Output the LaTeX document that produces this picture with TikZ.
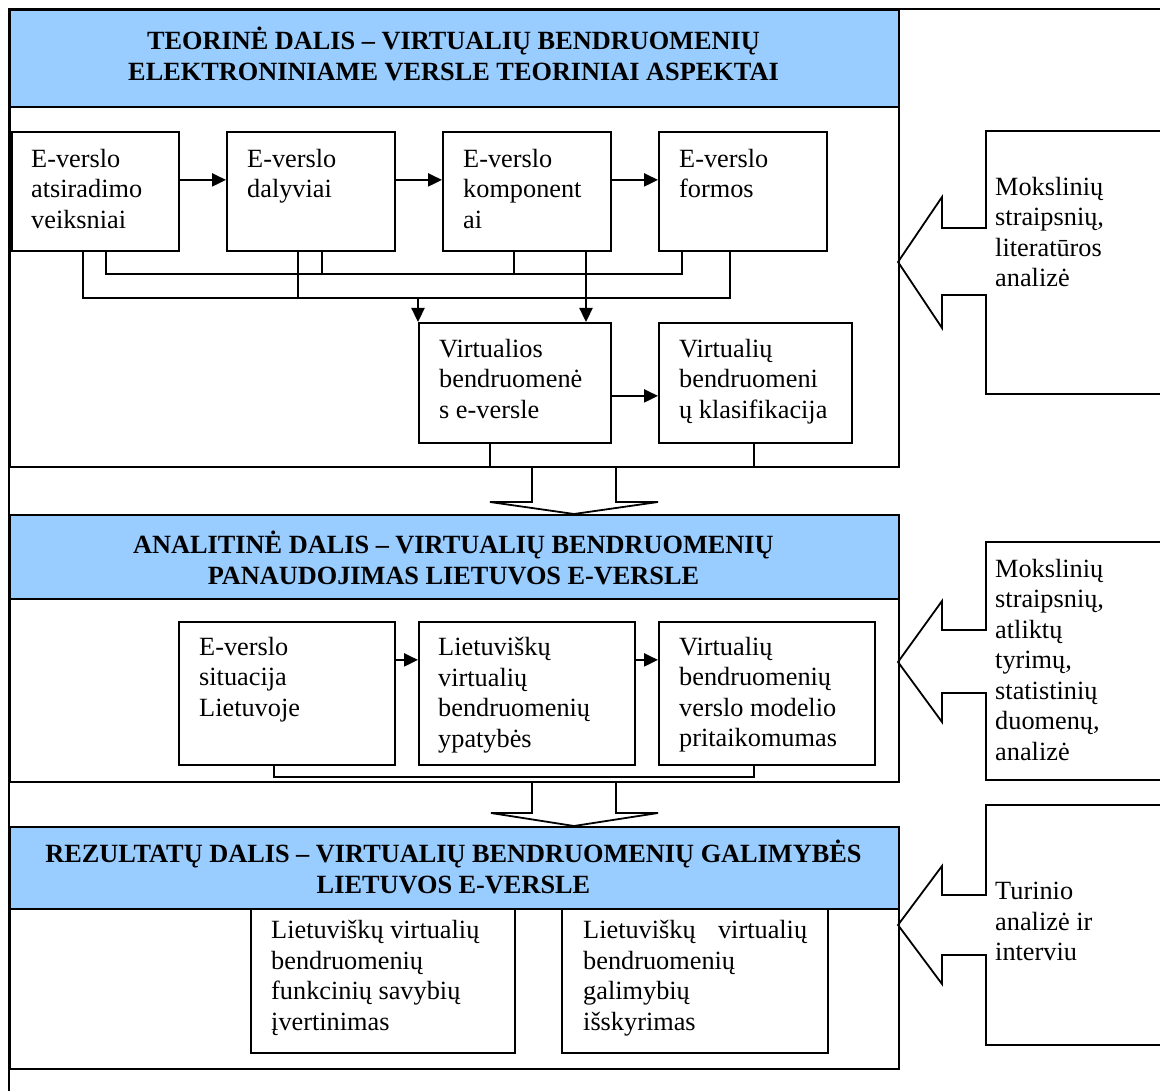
\documentclass[tikz,border=0pt]{standalone}
\usepackage{fontspec}
\setmainfont{Liberation Serif}
\usetikzlibrary{arrows.meta}
\definecolor{headblue}{RGB}{153,204,255}

\begin{document}
\begin{tikzpicture}[x=1pt,y=-1pt,
  link/.style={draw=black, line width=1.8pt},
  stepbox/.style={draw=black, line width=1.8pt, anchor=north west, inner sep=0pt},
  headbox/.style={stepbox, fill=headblue},
  boxtext/.style={anchor=north west, align=left, inner sep=0pt,
    font=\fontsize{26.3}{30.5}\selectfont},
  headtext/.style={anchor=north, align=center, inner sep=0pt,
    font=\fontsize{26.3}{31}\selectfont\bfseries},
  flow/.style={line width=2.3pt, -{Triangle[length=14pt,width=13pt]}},
]
\useasboundingbox (0,0) rectangle (1160,1091);

% outer frame (top and left edges)
\draw[link] (1180,9) -- (9,9) -- (9,1100);

% ---- section frames and headers ----
\node[stepbox, minimum width=889, minimum height=457] (s1) at (9,9) {};
\node[headbox, minimum width=889, minimum height=97] (h1) at (9,9) {};
\node[stepbox, minimum width=889, minimum height=267] (s2) at (9,514) {};
\node[headbox, minimum width=889, minimum height=84] (h2) at (9,514) {};
\node[stepbox, minimum width=889, minimum height=242] (s3) at (9,826) {};
\node[headbox, minimum width=889, minimum height=82] (h3) at (9,826) {};

\node[headtext] (h1t) at (453.5,26.5) {TEORINĖ DALIS – VIRTUALIŲ BENDRUOMENIŲ\\ELEKTRONINIAME VERSLE TEORINIAI ASPEKTAI};
\node[headtext] (h2t) at (453.5,531) {ANALITINĖ DALIS – VIRTUALIŲ BENDRUOMENIŲ\\PANAUDOJIMAS LIETUVOS E-VERSLE};
\node[headtext] (h3t) at (453.5,840) {REZULTATŲ DALIS – VIRTUALIŲ BENDRUOMENIŲ GALIMYBĖS\\LIETUVOS E-VERSLE};

% ---- theoretical part ----
\node[stepbox, minimum width=167, minimum height=119] (b1) at (11,131) {};
\node[stepbox, minimum width=168, minimum height=119] (b2) at (226,131) {};
\node[stepbox, minimum width=168, minimum height=119] (b3) at (442,131) {};
\node[stepbox, minimum width=168, minimum height=119] (b4) at (658,131) {};
\node[stepbox, minimum width=192, minimum height=120] (v1) at (418,322) {};
\node[stepbox, minimum width=193, minimum height=120] (v2) at (658,322) {};

\node[boxtext] (b1t) at (31,149) {E-verslo\\atsiradimo\\veiksniai};
\node[boxtext] (b2t) at (247,149) {E-verslo\\dalyviai};
\node[boxtext] (b3t) at (463,149) {E-verslo\\komponent\\ai};
\node[boxtext] (b4t) at (679,149) {E-verslo\\formos};
\node[boxtext] (v1t) at (439,339) {Virtualios\\bendruomenė\\s e-versle};
\node[boxtext] (v2t) at (679,339) {Virtualių\\bendruomeni\\ų klasifikacija};

\draw[flow] ([yshift=11.5]b1.east) -- ([yshift=11.5]b2.west);
\draw[flow] ([yshift=11.5]b2.east) -- ([yshift=11.5]b3.west);
\draw[flow] ([yshift=11.5]b3.east) -- ([yshift=11.5]b4.west);
\draw[flow] ([yshift=-13]v1.east) -- ([yshift=-13]v2.west);

% upper collecting line
\coordinate (u1) at (106,274);
\coordinate (u2) at (322,274);
\coordinate (u3) at (514,274);
\coordinate (u4) at (682,274);
\draw[link] (b1.south -| u1) -- (u1) -- (u4) -- (b4.south -| u4);
\draw[link] (b2.south -| u2) -- (u2);
\draw[link] (b3.south -| u3) -- (u3);
% lower collecting line
\coordinate (l1) at (83,298);
\coordinate (l2) at (298,298);
\coordinate (l4) at (730,298);
\coordinate (la) at (418,298);
\coordinate (d3) at (586,298);
\draw[link] (b1.south -| l1) -- (l1) -- (l4) -- (b4.south -| l4);
\draw[link] (b2.south -| l2) -- (l2);
\draw[flow] (la) -- (v1.north -| la);
\draw[flow] (b3.south -| d3) -- (v1.north -| d3);

% links down to the section edge
\coordinate (e1) at (490,466);
\coordinate (e2) at (754,466);
\draw[link] (v1.south -| e1) -- (e1);
\draw[link] (v2.south -| e2) -- (e2);

% block arrow into the analytical part
\draw[link, line join=miter] (532,466) -- (532,502) -- (490,502) -- (574,514)
  -- (658,502) -- (616,502) -- (616,466);

% ---- analytical part ----
\node[stepbox, minimum width=216, minimum height=143] (a1) at (178,621) {};
\node[stepbox, minimum width=216, minimum height=143] (a2) at (418,621) {};
\node[stepbox, minimum width=216, minimum height=143] (a3) at (658,621) {};

\node[boxtext] (a1t) at (199,637) {E-verslo\\situacija\\Lietuvoje};
\node[boxtext] (a2t) at (438,637) {Lietuviškų\\virtualių\\bendruomenių\\ypatybės};
\node[boxtext] (a3t) at (679,637) {Virtualių\\bendruomenių\\verslo modelio\\pritaikomumas};

\draw[flow] ([yshift=33.5]a1.east) -- ([yshift=33.5]a2.west);
\draw[flow] ([yshift=33.5]a2.east) -- ([yshift=33.5]a3.west);

\coordinate (f1) at (274,777);
\coordinate (f2) at (754,777);
\draw[link] (a1.south -| f1) -- (f1) -- (f2) -- (a3.south -| f2);

% block arrow into the results part
\draw[link, line join=miter] (532,781) -- (532,813) -- (491,813) -- (574,826)
  -- (658,813) -- (616,813) -- (616,781);

% ---- results part ----
\node[stepbox, minimum width=264, minimum height=144] (c1) at (250,908) {};
\node[stepbox, minimum width=266, minimum height=144] (c2) at (561,908) {};

\node[boxtext] (c1t) at (271,920) {Lietuviškų virtualių\\bendruomenių\\funkcinių savybių\\įvertinimas};
\node[boxtext] (c2t) at (583,920) {Lietuviškų\hspace{0.85em}virtualių\\bendruomenių\\galimybių\\išskyrimas};

% ---- sources feeding each part ----
\draw[link, line join=miter] (1180,131) -- (986,131) -- (986,228) -- (942,228) -- (942,197)
  -- (898,262) -- (942,328) -- (942,295) -- (986,295) -- (986,394) -- (1180,394);
\node[boxtext] (r1t) at (995,177) {Mokslinių\\straipsnių,\\literatūros\\analizė};

\draw[link, line join=miter] (1180,542) -- (986,542) -- (986,630) -- (942,630) -- (942,601)
  -- (898,662) -- (942,722) -- (942,693) -- (986,693) -- (986,780) -- (1180,780);
\node[boxtext] (r2t) at (995,559) {Mokslinių\\straipsnių,\\atliktų\\tyrimų,\\statistinių\\duomenų,\\analizė};

\draw[link, line join=miter] (1180,805) -- (986,805) -- (986,895) -- (942,895) -- (942,866)
  -- (898,925) -- (942,984) -- (942,955) -- (986,955) -- (986,1045) -- (1180,1045);
\node[boxtext] (r3t) at (995,882) {Turinio\\analizė ir\\interviu};
\end{tikzpicture}
\end{document}
